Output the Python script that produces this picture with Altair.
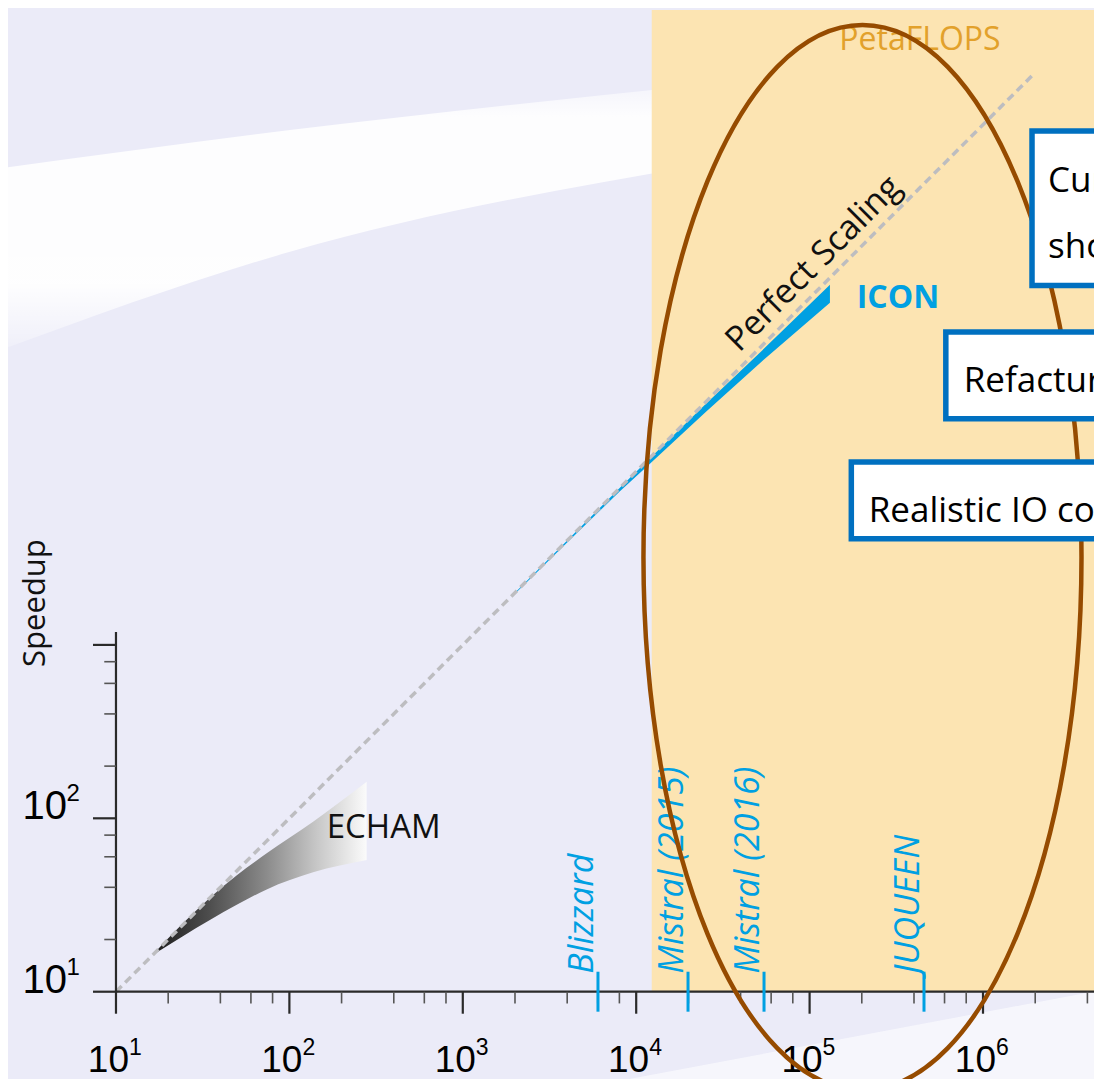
import altair as alt
import pandas as pd

# ---------------- layout (plot area = whole figure, sized to fit the window) ----------------
W, H = 1086, 1071
X_DOMAIN = [2.384, 4.366e6]
Y_DOMAIN = [3.1377, 4.710e6]
XS = alt.Scale(type="log", domain=X_DOMAIN, nice=False)
YS = alt.Scale(type="log", domain=Y_DOMAIN, nice=False)

# ---------------- data ----------------
perfect_cores = [10, 2.0e6]

echam_cores = [16.8, 34.8, 50, 74, 137, 279]
echam_upper = [16.9, 34.8, 47.1, 62.8, 95.6, 162.6]
echam_lower = [16.6, 25.9, 31.8, 38.9, 48.8, 57.5]

icon_cores = [2000, 4000, 8000, 12000, 25000, 55000, 131000]
icon_upper = [2000, 4000, 8000, 11920, 24350, 51500, 119400]
icon_lower = [1974, 3895, 7640, 11080, 21890, 44540, 94000]

machines = ["Blizzard", "Mistral (2015)", "Mistral (2016)", "JUQUEEN"]
machine_cores = [6020, 19900, 54600, 456800]
machine_tick_low = 7.67
machine_tick_high = 13.04

x_major = [1e1, 1e2, 1e3, 1e4, 1e5, 1e6]
x_exp = ["1", "2", "3", "4", "5", "6"]
x_minor = [20, 40, 60, 80, 200, 400, 600, 800, 2e3, 4e3, 6e3, 8e3,
           2e4, 4e4, 6e4, 8e4, 2e5, 4e5, 6e5, 8e5, 2e6, 4e6]
y_major = [1e1, 1e2, 1e3]
y_labels = [1e1, 1e2]
y_exp = ["1", "2"]
y_minor = [20, 40, 60, 80, 200, 400, 600, 800]
axis_origin = 10
x_axis_end = 1e8
y_axis_end = 1187
x_tick_major_end, x_tick_minor_end = 7.466, 8.56
y_tick_major_end, y_tick_minor_end = 7.368, 8.56

peta_x = [12290, 1e8]
peta_y = [10, 4.585e6]

ellipse_center_x = [201800]
ellipse_center_y = [3192]

box_left = [1.917e6, 610300, 174000]
box_bottom = [118200, 20160, 4098]
box_top = [919300, 63760, 11340]
box_texts = ["Cur", "sho", "Refactur", "Realistic IO co"]
box_text_x = [2.371e6, 2.371e6, 774000, 219200]
box_text_y = [410900, 169700, 28860, 5134]

swoosh_x = [2.14, 100.8, 23330]
swoosh_top = [560000, 931000, 1.694e6]
swoosh_bottom = [50000, 185000, 586000]
swoosh2_x = [2786, 5.4e6]
swoosh2_top = [2.51, 10.43]
swoosh2_bottom = [1, 1]

# ---------------- helpers ----------------
def X(f):
    return alt.X(f"{f}:Q", scale=XS, axis=None)


def Y(f):
    return alt.Y(f"{f}:Q", scale=YS, axis=None)


BLUE = "#00A0E2"
BROWN = "#964B00"
SANS = "Open Sans"
NUM = "Liberation Sans"

layers = []

# background swooshes
sw = pd.DataFrame({"x": swoosh_x, "y": swoosh_top, "y2": swoosh_bottom})
layers.append(alt.Chart(sw).mark_area(
    clip=True, interpolate="monotone",
    color=alt.LinearGradient(gradient="linear", x1=0, x2=0, y1=0, y2=1, stops=[
        alt.GradientStop(color="rgba(255,255,255,0.45)", offset=0),
        alt.GradientStop(color="rgba(255,255,255,0.9)", offset=0.12),
        alt.GradientStop(color="rgba(255,255,255,0.93)", offset=0.75),
        alt.GradientStop(color="rgba(255,255,255,0.2)", offset=1)])
).encode(x=X("x"), y=Y("y"), y2="y2:Q"))

sw2 = pd.DataFrame({"x": swoosh2_x, "y": swoosh2_top, "y2": swoosh2_bottom})
layers.append(alt.Chart(sw2).mark_area(clip=True, color="#F8F8FD", opacity=0.85)
              .encode(x=X("x"), y=Y("y"), y2="y2:Q"))

# PetaFLOPS region
pr = pd.DataFrame({"x": [peta_x[0]], "x2": [peta_x[1]], "y": [peta_y[0]], "y2": [peta_y[1]]})
layers.append(alt.Chart(pr).mark_rect(clip=True, color="#FCE4B2")
              .encode(x=X("x"), x2="x2:Q", y=Y("y"), y2="y2:Q"))
pt = pd.DataFrame({"x": [433200], "y": [2.697e6], "t": ["PetaFLOPS"]})
layers.append(alt.Chart(pt).mark_text(font=SANS, fontSize=32, color="#E2A12B",
                                      align="center", baseline="alphabetic")
              .encode(x=X("x"), y=Y("y"), text="t:N"))

# ECHAM band
ec = pd.DataFrame({"x": echam_cores, "y": echam_upper, "y2": echam_lower})
layers.append(alt.Chart(ec).mark_area(
    interpolate="monotone",
    color=alt.LinearGradient(gradient="linear", x1=0, x2=1, y1=0, y2=0, stops=[
        alt.GradientStop(color="#1e1e1e", offset=0),
        alt.GradientStop(color="#4c4c4c", offset=0.25),
        alt.GradientStop(color="#8c8c8c", offset=0.53),
        alt.GradientStop(color="#c6c6c6", offset=0.76),
        alt.GradientStop(color="#fbfbfb", offset=1)])
).encode(x=X("x"), y=Y("y"), y2="y2:Q"))

# ICON band
ic = pd.DataFrame({"x": icon_cores, "y": icon_upper, "y2": icon_lower})
layers.append(alt.Chart(ic).mark_area(color=BLUE)
              .encode(x=X("x"), y=Y("y"), y2="y2:Q"))

# perfect scaling
pf = pd.DataFrame({"x": perfect_cores, "y": perfect_cores})
layers.append(alt.Chart(pf).mark_line(color="#BDBDC0", strokeWidth=3.5, strokeDash=[8, 5])
              .encode(x=X("x"), y=Y("y")))

# axes lines and ticks
rows = []
rows.append((axis_origin, x_axis_end, axis_origin, axis_origin, "maj"))
rows.append((axis_origin, axis_origin, axis_origin, y_axis_end, "maj"))
for v in x_major:
    rows.append((v, v, axis_origin, x_tick_major_end, "maj"))
for v in x_minor:
    rows.append((v, v, axis_origin, x_tick_minor_end, "min"))
for v in y_major:
    rows.append((axis_origin, y_tick_major_end, v, v, "maj"))
for v in y_minor:
    rows.append((axis_origin, y_tick_minor_end, v, v, "min"))
ax = pd.DataFrame(rows, columns=["x", "x2", "y", "y2", "k"])
layers.append(alt.Chart(ax[ax.k == "maj"]).mark_rule(clip=True, color="#2a2a2a", strokeWidth=2.2)
              .encode(x=X("x"), x2="x2:Q", y=Y("y"), y2="y2:Q"))
layers.append(alt.Chart(ax[ax.k == "min"]).mark_rule(clip=True, color="#555555", strokeWidth=1.6)
              .encode(x=X("x"), x2="x2:Q", y=Y("y"), y2="y2:Q"))

# machine markers
mc = pd.DataFrame({"x": machine_cores, "name": machines,
                   "y": [machine_tick_low] * 4, "y2": [machine_tick_high] * 4})
layers.append(alt.Chart(mc).mark_rule(color=BLUE, strokeWidth=3)
              .encode(x=X("x"), y=Y("y"), y2="y2:Q"))
layers.append(alt.Chart(mc).mark_text(font=SANS, fontStyle="italic", fontSize=34, color=BLUE,
                                      angle=270, align="left", baseline="alphabetic", dx=-2, dy=-5)
              .encode(x=X("x"), y=Y("y2"), text="name:N"))

# x tick labels: "10" + superscript
xl = pd.DataFrame({"x": x_major, "y": [axis_origin] * len(x_major), "e": x_exp,
                   "b": ["10"] * len(x_major)})
layers.append(alt.Chart(xl).mark_text(font=NUM, fontSize=37, color="#000000", align="right",
                                      baseline="alphabetic", dx=13, dy=80)
              .encode(x=X("x"), y=Y("y"), text="b:N"))
layers.append(alt.Chart(xl).mark_text(font=NUM, fontSize=23, color="#000000", align="left",
                                      baseline="alphabetic", dx=13, dy=63)
              .encode(x=X("x"), y=Y("y"), text="e:N"))

# y tick labels
yl = pd.DataFrame({"x": [axis_origin] * len(y_labels), "y": y_labels, "e": y_exp,
                   "b": ["10"] * len(y_labels)})
layers.append(alt.Chart(yl).mark_text(font=NUM, fontSize=40, color="#000000", align="right",
                                      baseline="alphabetic", dx=-49, dy=1)
              .encode(x=X("x"), y=Y("y"), text="b:N"))
layers.append(alt.Chart(yl).mark_text(font=NUM, fontSize=24, color="#000000", align="right",
                                      baseline="alphabetic", dx=-36, dy=-17)
              .encode(x=X("x"), y=Y("y"), text="e:N"))

# y axis title
yt = pd.DataFrame({"x": [3.895], "y": [1744], "t": ["Speedup"]})
layers.append(alt.Chart(yt).mark_text(font=SANS, fontSize=31, color="#111111", angle=270,
                                      align="center", baseline="alphabetic")
              .encode(x=X("x"), y=Y("y"), text="t:N"))

# annotations
ps = pd.DataFrame({"x": [129100], "y": [129100], "t": ["Perfect Scaling"]})
layers.append(alt.Chart(ps).mark_text(font=SANS, fontSize=34, color="#111111", angle=315,
                                      align="center", baseline="alphabetic", dy=-11)
              .encode(x=X("x"), y=Y("y"), text="t:N"))
il = pd.DataFrame({"x": [186900], "y": [87340], "t": ["ICON"]})
layers.append(alt.Chart(il).mark_text(font=SANS, fontSize=32, fontWeight="bold", color=BLUE,
                                      align="left", baseline="alphabetic")
              .encode(x=X("x"), y=Y("y"), text="t:N"))
el = pd.DataFrame({"x": [164.1], "y": [76.7], "t": ["ECHAM"]})
layers.append(alt.Chart(el).mark_text(font=SANS, fontSize=33, color="#111111",
                                      align="left", baseline="alphabetic")
              .encode(x=X("x"), y=Y("y"), text="t:N"))

# ellipse (custom symbol path, half-width / half-height = 219 / 532.5)
a, k = 0.4113, 0.5523
ak = a * k
ELLIPSE = (f"M {-a} 0 C {-a} {-k} {-ak} -1 0 -1 C {ak} -1 {a} {-k} {a} 0 "
           f"C {a} {k} {ak} 1 0 1 C {-ak} 1 {-a} {k} {-a} 0 Z")
ep = pd.DataFrame({"x": ellipse_center_x, "y": ellipse_center_y})
layers.append(alt.Chart(ep).mark_point(shape=ELLIPSE, filled=False, color=BROWN,
                                       strokeWidth=4.5, opacity=1, size=1065 ** 2)
              .encode(x=X("x"), y=Y("y")))

# boxes
bx = pd.DataFrame({"x": box_left, "x2": [1e8] * 3, "y": box_bottom, "y2": box_top})
layers.append(alt.Chart(bx).mark_rect(clip=True, fill="#FFFFFF", stroke="#0070C0", strokeWidth=5.5)
              .encode(x=X("x"), x2="x2:Q", y=Y("y"), y2="y2:Q"))
bt = pd.DataFrame({"x": box_text_x, "y": box_text_y, "t": box_texts})
layers.append(alt.Chart(bt).mark_text(clip=True, font=SANS, fontSize=35, color="#000000",
                                      align="left", baseline="alphabetic")
              .encode(x=X("x"), y=Y("y"), text="t:N"))

chart = alt.layer(*layers).properties(
    width=W, height=H, background="#EBEBF8", padding=0,
    autosize=alt.AutoSizeParams(type="none"),
).configure_view(stroke=None)

chart.save("out.html", embed_options={"renderer": "svg", "actions": False})
